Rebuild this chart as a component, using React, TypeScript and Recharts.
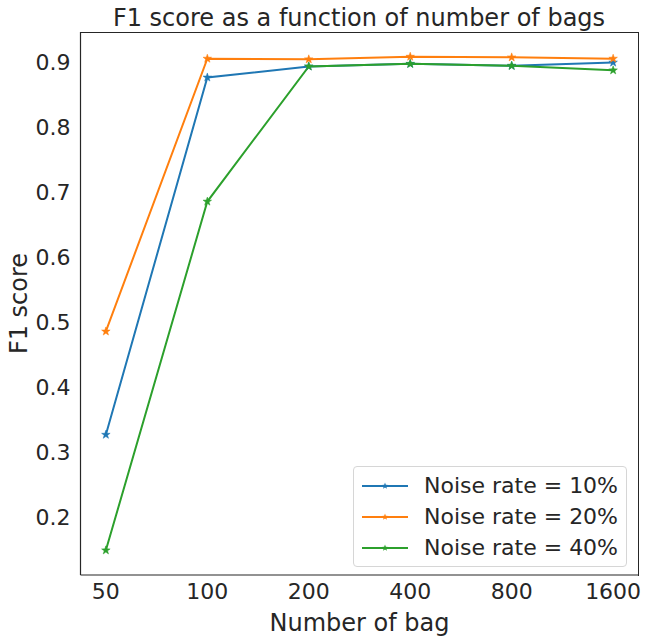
import React from 'react';
import { LineChart, Line, XAxis, YAxis } from 'recharts';

const BAGS = ['50', '100', '200', '400', '800', '1600'];
const NOISE_10 = [0.327, 0.877, 0.894, 0.898, 0.895, 0.900];
const NOISE_20 = [0.486, 0.906, 0.905, 0.909, 0.908, 0.906];
const NOISE_40 = [0.149, 0.686, 0.894, 0.898, 0.895, 0.888];
const Y_TICKS = [0.2, 0.3, 0.4, 0.5, 0.6, 0.7, 0.8, 0.9];

const SERIES = [
  { key: 'n10', name: 'Noise rate = 10%', color: '#1f77b4' },
  { key: 'n20', name: 'Noise rate = 20%', color: '#ff7f0e' },
  { key: 'n40', name: 'Noise rate = 40%', color: '#2ca02c' },
];

const data = BAGS.map((b, i) => ({
  idx: i,
  n10: NOISE_10[i],
  n20: NOISE_20[i],
  n40: NOISE_40[i],
}));

const FONT = '"DejaVu Sans", sans-serif';
const TEXT = '#262626';

const starPath = (cx: number, cy: number, r: number) => {
  const pts: string[] = [];
  for (let i = 0; i < 10; i++) {
    const rad = i % 2 === 0 ? r : r * 0.4;
    const a = -Math.PI / 2 + (i * Math.PI) / 5;
    pts.push(`${cx + rad * Math.cos(a)},${cy + rad * Math.sin(a)}`);
  }
  return `M${pts.join('L')}Z`;
};

const makeStar = (color: string) => (props: any) => {
  const { cx, cy, index } = props;
  if (cx == null || cy == null) return <g key={index} />;
  return <path key={index} d={starPath(cx, cy, 4.5)} fill={color} stroke={color} strokeWidth={0.5} />;
};

const LegendBox = () => (
  <div
    style={{
      position: 'absolute',
      left: 353,
      top: 466,
      border: '1px solid #d6d6d6',
      borderRadius: 4,
      background: 'rgba(255,255,255,0.8)',
      width: 274,
      padding: '3px 0',
      boxSizing: 'border-box',
      fontFamily: FONT,
      fontSize: 22,
      color: TEXT,
    }}
  >
    {SERIES.map((s) => (
      <div key={s.key} style={{ display: 'flex', alignItems: 'center', height: 31 }}>
        <svg width={64} height={20} style={{ marginLeft: 6, flexShrink: 0 }}>
          <line x1={2} x2={48} y1={10} y2={10} stroke={s.color} strokeWidth={2} />
          <path d={starPath(25, 10, 3.5)} fill={s.color} />
        </svg>
        <span>{s.name}</span>
      </div>
    ))}
  </div>
);

export default function App() {
  return (
    <div style={{ position: 'absolute', left: 0, top: 0, width: 647, height: 640, background: '#fff' }}>
      <div
        style={{
          position: 'absolute',
          top: 4,
          left: 80,
          width: 558,
          textAlign: 'center',
          fontFamily: FONT,
          fontSize: 24,
          color: TEXT,
        }}
      >
        F1 score as a function of number of bags
      </div>
      <LineChart
        width={647}
        height={640}
        data={data}
        margin={{ top: 32, right: 8.5, bottom: 0, left: 0 }}
      >
        <XAxis
          dataKey="idx"
          type="number"
          domain={[-0.25, 5.25]}
          ticks={[0, 1, 2, 3, 4, 5]}
          tickFormatter={(v: number) => BAGS[v]}
          height={65}
          axisLine={{ stroke: TEXT, strokeWidth: 1.2 }}
          tickLine={false}
          tick={{ fill: TEXT, fontSize: 22, fontFamily: FONT, dy: 0 }}
          allowDataOverflow
          label={{ value: 'Number of bag', position: 'insideBottom', offset: 9, fill: TEXT, fontSize: 24, fontFamily: FONT }}
        />
        <YAxis
          type="number"
          domain={[0.111, 0.947]}
          ticks={Y_TICKS}
          tickFormatter={(v: number) => v.toFixed(1)}
          width={80.5}
          axisLine={{ stroke: TEXT, strokeWidth: 1.2 }}
          tickLine={false}
          tick={{ fill: TEXT, fontSize: 22, fontFamily: FONT, dx: -2 }}
          allowDataOverflow
          label={{ value: 'F1 score', angle: -90, position: 'insideLeft', offset: 18, fill: TEXT, fontSize: 24, fontFamily: FONT, style: { textAnchor: 'middle' } }}
        />
        {SERIES.map((s) => (
          <Line
            key={s.key}
            dataKey={s.key}
            name={s.name}
            stroke={s.color}
            strokeWidth={2}
            dot={makeStar(s.color)}
            activeDot={false}
            isAnimationActive={false}
          />
        ))}
      </LineChart>
      <div
        style={{
          position: 'absolute',
          left: 80,
          top: 31.5,
          width: 558,
          height: 543,
          borderTop: `1.2px solid ${TEXT}`,
          borderRight: `1.2px solid ${TEXT}`,
          pointerEvents: 'none',
        }}
      />
      <LegendBox />
    </div>
  );
}
